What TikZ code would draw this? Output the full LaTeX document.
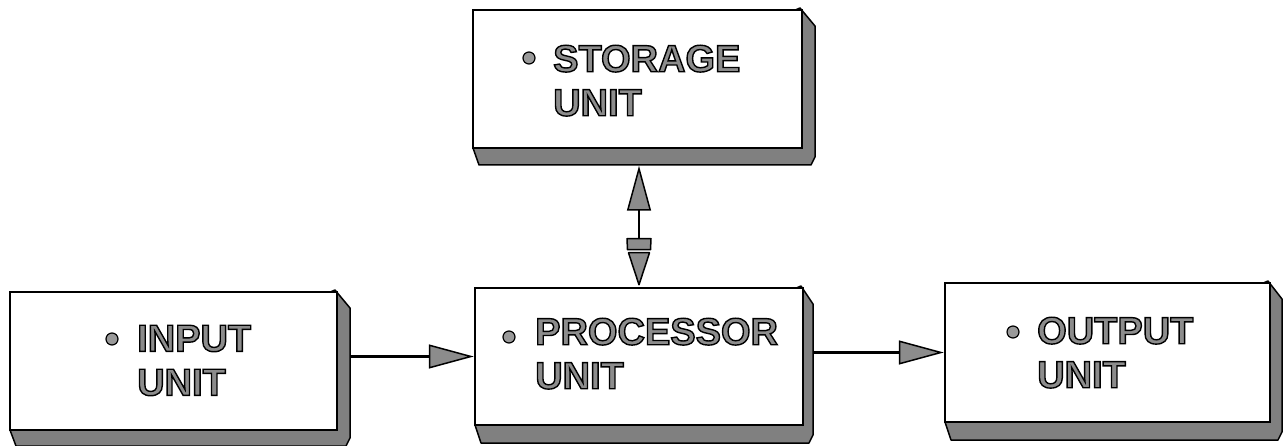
\documentclass[tikz,border=0pt]{standalone}
\usepackage{fontspec}
\setmainfont{Liberation Sans}
\usetikzlibrary{arrows.meta,calc}
\newcommand{\outlon}{\special{pdf:literal direct 2 Tr 1.4 w 0 G}}
\newcommand{\outloff}{\special{pdf:literal direct 0 Tr}}
\tikzset{
  slab/.style={fill=black!50, draw=black, line width=1.5pt, line join=round},
  ubox/.style={rectangle, draw=black, fill=white, line width=2.5pt, inner sep=0pt},
  lbl/.style={inner sep=0pt, anchor=north west, align=left, text=black!45,
    font=\fontsize{38}{44}\selectfont\bfseries},
  bul/.style={fill=black!40, draw=black, line width=1.2pt},
  flow/.style={draw=black, line width=2.2pt,
    -{Triangle[length=45pt,width=24pt,fill=black!45,line width=1.5pt]}},
  dflow/.style={draw=black, line width=2.2pt,
    {Triangle[length=45pt,width=24pt,fill=black!45,line width=1.5pt]}-},
  head/.style={fill=black!45, draw=black, line width=1.5pt, line join=round}
}
\newcommand{\unitbox}[7]{%
  \filldraw[slab] (#2,#5) -- ({#2+6},#7) -- ({#6-4},#7) -- (#6,{#7-8}) -- (#6,{#3+16}) -- ({#4-2},{#3-2}) -- cycle;
  \node[ubox, minimum width={(#4-#2)*1pt}, minimum height={(#5-#3)*1pt}] (#1) at ({(#2+#4)/2},{(#3+#5)/2}) {};}
\begin{document}
\begin{tikzpicture}[x=1pt, y=-1pt]
\useasboundingbox[fill=white] (0,0) rectangle (1285,446);
% boxes
\unitbox{stor}{473}{10}{802}{148}{815}{165}
\unitbox{inp}{10}{292}{337}{430}{350}{446}
\unitbox{proc}{475}{288}{803}{425}{813}{443}
\unitbox{outp}{945}{283}{1270}{422}{1282}{440}
% labels
\node[lbl] (stortxt) at (553,45) {\outlon STORAGE\\UNIT\outloff};
\node[lbl] (inptxt) at (137,325) {\outlon INPUT\\UNIT\outloff};
\node[lbl] (proctxt) at (535,318) {\outlon PROCESSOR\\UNIT\outloff};
\node[lbl] (outptxt) at (1037,317) {\outlon OUTPUT\\UNIT\outloff};
% bullets
\filldraw[bul] (529,58) circle (6pt);
\filldraw[bul] (112,339) circle (6pt);
\filldraw[bul] (509,337) circle (6pt);
\filldraw[bul] (1013,332) circle (6pt);
% connectors
\draw[flow] ($(proc.west -| inp.east)+(13,0)$) -- (proc.west);
\draw[flow] ($(outp.west -| proc.east)+(10,0)$) -- (outp.west);
\path (proc.north) ++(0,-121) coordinate (sbot);
\path (proc.north) ++(0,-48) coordinate (lowbase);
\draw[dflow] (sbot) -- (lowbase);
\filldraw[head] ($(lowbase)+(-12,0)$) -- ($(lowbase)+(12,0)$) -- ($(lowbase)+(11.5,11)$) -- ($(lowbase)+(-11.5,11)$) -- cycle;
\filldraw[head] ($(lowbase)+(-10.5,14)$) -- ($(lowbase)+(10.5,14)$) -- ($(proc.north)+(0,-2)$) -- cycle;
\end{tikzpicture}
\end{document}
